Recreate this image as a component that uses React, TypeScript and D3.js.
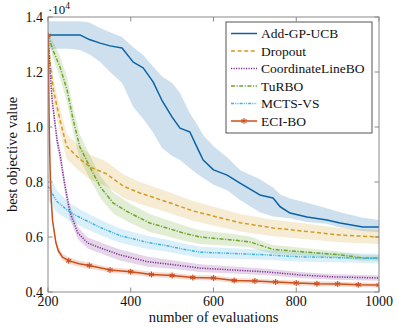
import React from "react";
import * as d3 from "d3";

// chart values (objective in units of 1e4)
const xTicks = [200, 400, 600, 800, 1000];
const yTicks = [0.4, 0.6, 0.8, 1.0, 1.2, 1.4];
const yTickLabels = ["0.4", "0.6", "0.8", "1.0", "1.2", "1.4"];

const names = ["Add-GP-UCB", "Dropout", "CoordinateLineBO", "TuRBO", "MCTS-VS", "ECI-BO"];
const colors = ["#0a63a6", "#d39b22", "#7e2f8e", "#6ea52d", "#3fb0e2", "#cc4e1b"];
const dashes = ["", "4,2.6", "1.2,1.3", "4,1.5,1.2,1.5", "3,1.2,1,1.2,1,1.2", ""];

// Add-GP-UCB
const gpX = [200, 250, 277, 300, 326, 350, 379, 406, 430, 454, 475, 500, 519, 543, 560, 575, 600, 633, 664, 712, 744, 761, 785, 826, 874, 906, 961, 1000];
const gpY = [1.335, 1.335, 1.335, 1.318, 1.305, 1.295, 1.287, 1.236, 1.215, 1.164, 1.098, 1.036, 0.996, 0.982, 0.927, 0.88, 0.844, 0.825, 0.796, 0.753, 0.742, 0.71, 0.687, 0.673, 0.662, 0.651, 0.636, 0.636];
const gpLo = [1.285, 1.285, 1.28, 1.265, 1.236, 1.2, 1.16, 1.073, 1.03, 0.98, 0.925, 0.895, 0.88, 0.85, 0.83, 0.815, 0.79, 0.77, 0.735, 0.69, 0.675, 0.672, 0.668, 0.655, 0.648, 0.635, 0.622, 0.618];
const gpHi = [1.385, 1.385, 1.385, 1.38, 1.36, 1.345, 1.327, 1.29, 1.262, 1.22, 1.185, 1.16, 1.124, 1.05, 1.01, 0.97, 0.93, 0.89, 0.844, 0.81, 0.78, 0.755, 0.74, 0.725, 0.705, 0.69, 0.67, 0.662];

// Dropout
const doX = [200, 206, 213, 229, 245, 272, 301, 341, 382, 422, 487, 550, 616, 664, 744, 826, 906, 1000];
const doY = [1.333, 1.22, 1.135, 1.025, 0.93, 0.89, 0.855, 0.83, 0.785, 0.76, 0.728, 0.695, 0.67, 0.652, 0.633, 0.62, 0.607, 0.6];
const doW = [0.01, 0.03, 0.04, 0.045, 0.045, 0.045, 0.045, 0.045, 0.042, 0.04, 0.038, 0.036, 0.034, 0.032, 0.03, 0.028, 0.026, 0.025];

// CoordinateLineBO
const clX = [200, 205, 210, 222, 229, 241, 253, 272, 296, 334, 374, 441, 488, 526, 567, 647, 729, 809, 890, 1000];
const clY = [1.333, 1.2, 1.098, 0.95, 0.9, 0.785, 0.69, 0.615, 0.578, 0.556, 0.535, 0.51, 0.502, 0.495, 0.487, 0.48, 0.473, 0.462, 0.455, 0.451];
const clW = [0.01, 0.02, 0.025, 0.025, 0.025, 0.025, 0.025, 0.022, 0.02, 0.02, 0.02, 0.018, 0.016, 0.015, 0.014, 0.013, 0.012, 0.011, 0.01, 0.01];

// TuRBO
const tuX = [200, 212, 229, 246, 261, 277, 301, 326, 358, 398, 446, 487, 526, 567, 647, 688, 744, 826, 906, 961, 1000];
const tuY = [1.333, 1.28, 1.218, 1.135, 1.025, 0.928, 0.855, 0.783, 0.723, 0.687, 0.651, 0.633, 0.615, 0.6, 0.589, 0.582, 0.555, 0.545, 0.535, 0.524, 0.524];
const tuW = [0.01, 0.03, 0.04, 0.045, 0.045, 0.045, 0.042, 0.04, 0.038, 0.035, 0.033, 0.03, 0.028, 0.025, 0.022, 0.02, 0.016, 0.014, 0.012, 0.01, 0.01];

// MCTS-VS
const mcX = [200, 221, 253, 285, 326, 374, 441, 488, 526, 567, 647, 729, 809, 900, 1000];
const mcY = [0.785, 0.73, 0.69, 0.665, 0.635, 0.605, 0.58, 0.568, 0.556, 0.545, 0.54, 0.535, 0.528, 0.525, 0.522];
const mcW = [0.05, 0.04, 0.032, 0.03, 0.028, 0.026, 0.024, 0.022, 0.02, 0.02, 0.019, 0.018, 0.018, 0.017, 0.017];

// ECI-BO (markers every 50 evaluations)
const ecX = [200, 201, 203, 205, 208, 211, 215, 219, 225, 235, 250, 275, 300, 325, 350, 400, 450, 500, 550, 600, 650, 700, 750, 800, 850, 900, 950, 1000];
const ecY = [1.333, 1.25, 1.0, 0.85, 0.73, 0.66, 0.62, 0.58, 0.55, 0.527, 0.514, 0.503, 0.496, 0.488, 0.48, 0.474, 0.464, 0.46, 0.453, 0.451, 0.442, 0.44, 0.436, 0.433, 0.43, 0.429, 0.426, 0.425];
const ecW = [0.05, 0.03, 0.02, 0.015, 0.012, 0.012, 0.012, 0.012, 0.012, 0.012, 0.012, 0.011, 0.011, 0.01, 0.01, 0.01, 0.01, 0.01, 0.009, 0.009, 0.009, 0.009, 0.009, 0.009, 0.009, 0.009, 0.009, 0.009];

type Pt = { x: number; y: number; lo: number; hi: number };

const withW = (xs: number[], ys: number[], ws: number[]): Pt[] =>
  xs.map((x, i) => ({ x, y: ys[i], lo: ys[i] - ws[i], hi: ys[i] + ws[i] }));

const seriesData: Pt[][] = [
  gpX.map((x, i) => ({ x, y: gpY[i], lo: gpLo[i], hi: gpHi[i] })),
  withW(doX, doY, doW),
  withW(clX, clY, clW),
  withW(tuX, tuY, tuW),
  withW(mcX, mcY, mcW),
  withW(ecX, ecY, ecW),
];

const left = 48, right = 379, top = 17, bottom = 292;
const font = "'Liberation Serif', 'Times New Roman', serif";
const axisColor = "#8a8a8a";

function Asterisk({ cx, cy, color }: { cx: number; cy: number; color: string }) {
  const r = 3;
  const segs = [90, 30, -30].map((a) => {
    const t = (a * Math.PI) / 180;
    return `M${cx - r * Math.cos(t)},${cy - r * Math.sin(t)}L${cx + r * Math.cos(t)},${cy + r * Math.sin(t)}`;
  });
  return <path d={segs.join("")} stroke={color} strokeWidth={1.1} fill="none" />;
}

export default function App() {
  const x = d3.scaleLinear().domain([200, 1000]).range([left, right]);
  const y = d3.scaleLinear().domain([0.4, 1.4]).range([bottom, top]);

  const line = d3.line<Pt>().x((d) => x(d.x)).y((d) => y(d.y));
  const area = d3.area<Pt>().x((d) => x(d.x)).y0((d) => y(d.lo)).y1((d) => y(d.hi));

  const legX = 226, legY = 22, legW = 146, legH = 111;
  const rowY = (i: number) => legY + 11.5 + i * 17.5;

  return (
    <svg width={399} height={328} style={{ position: "absolute", left: 0, top: 0 }} fontFamily={font}>
      <defs>
        <clipPath id="plot">
          <rect x={left} y={top} width={right - left} height={bottom - top} />
        </clipPath>
      </defs>
      <rect width={399} height={328} fill="#fff" />
      <g clipPath="url(#plot)">
        {seriesData.map((d, i) => (
          <path key={"b" + i} d={area(d) || ""} fill={colors[i]} fillOpacity={0.2} stroke="none" />
        ))}
        {seriesData.map((d, i) => (
          <path key={"l" + i} d={line(d) || ""} fill="none" stroke={colors[i]} strokeWidth={1.5}
            strokeDasharray={dashes[i] || undefined} strokeLinejoin="round" />
        ))}
        {seriesData[5].filter((d) => d.x % 50 === 0).map((d, j) => (
          <Asterisk key={"m" + j} cx={x(d.x)} cy={y(d.y)} color={colors[5]} />
        ))}
      </g>

      {/* frame and ticks */}
      <rect x={left} y={top} width={right - left} height={bottom - top} fill="none" stroke={axisColor} strokeWidth={1} />
      {xTicks.map((t) => (
        <g key={"xt" + t}>
          <line x1={x(t)} x2={x(t)} y1={bottom} y2={bottom - 4.5} stroke={axisColor} />
          <line x1={x(t)} x2={x(t)} y1={top} y2={top + 4.5} stroke={axisColor} />
          <text x={x(t)} y={306} textAnchor="middle" fontSize={14} fill="#111">{t}</text>
        </g>
      ))}
      {yTicks.map((t, i) => (
        <g key={"yt" + t}>
          <line x1={left} x2={left + 4.5} y1={y(t)} y2={y(t)} stroke={axisColor} />
          <line x1={right} x2={right - 4.5} y1={y(t)} y2={y(t)} stroke={axisColor} />
          <text x={43} y={y(t) + 4.5} textAnchor="end" fontSize={14} fill="#111">{yTickLabels[i]}</text>
        </g>
      ))}
      <text x={48} y={14} fontSize={13} fill="#111">
        {"\u00b710"}
        <tspan dy={-5} fontSize={9.5}>4</tspan>
      </text>

      <text x={(left + right) / 2} y={322} textAnchor="middle" fontSize={14.5} fill="#111">number of evaluations</text>
      <text transform={`translate(17,${(top + bottom) / 2}) rotate(-90)`} textAnchor="middle" fontSize={14.5} fill="#111">
        best objective value
      </text>

      {/* legend */}
      <rect x={legX} y={legY} width={legW} height={legH} fill="#fff" stroke="#555" strokeWidth={1} />
      {names.map((n, i) => (
        <g key={"lg" + i}>
          <line x1={231} x2={257} y1={rowY(i)} y2={rowY(i)} stroke={colors[i]} strokeWidth={1.5}
            strokeDasharray={dashes[i] || undefined} />
          {i === 5 && <Asterisk cx={244} cy={rowY(i)} color={colors[i]} />}
          <text x={261} y={rowY(i) + 4.5} fontSize={13.5} fill="#111">{n}</text>
        </g>
      ))}
    </svg>
  );
}
